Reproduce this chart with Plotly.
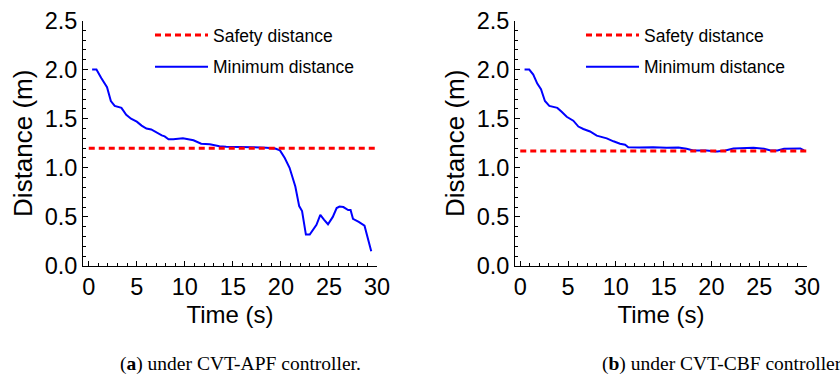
import plotly.graph_objects as go

# ---- data ----
t_apf = [0.35, 0.8, 1.3, 1.9, 2.3, 2.7, 3.4, 3.9, 4.4, 5.0, 5.5, 6.0, 6.5, 7.0, 7.6, 7.9, 8.3, 8.8,
         9.8, 10.9, 11.7, 12.6, 13.6, 14.3, 15.0, 17.1, 18.5, 19.4, 19.9, 20.4, 20.9, 21.2, 21.5,
         21.9, 22.2, 22.6, 23.0, 23.7, 24.1, 24.5, 24.9, 25.4, 25.8, 26.1, 26.5, 27.0, 27.25, 27.5,
         28.1, 28.7, 29.0, 29.4]
d_apf = [2.0, 2.0, 1.915, 1.82, 1.68, 1.63, 1.61, 1.54, 1.50, 1.47, 1.43, 1.40, 1.39, 1.36, 1.33,
         1.32, 1.29, 1.29, 1.30, 1.28, 1.245, 1.24, 1.22, 1.215, 1.215, 1.21, 1.205, 1.197, 1.177,
         1.10, 1.00, 0.895, 0.81, 0.61, 0.56, 0.32, 0.32, 0.42, 0.52, 0.47, 0.425, 0.50, 0.59,
         0.605, 0.60, 0.57, 0.57, 0.48, 0.45, 0.41, 0.30, 0.15]

t_cbf = [0.45, 0.94, 1.36, 1.78, 2.17, 2.58, 3.04, 3.88, 4.33, 4.86, 5.55, 6.08, 6.6, 7.3, 8.0,
         8.5, 9.05, 9.75, 10.44, 10.97, 11.3, 12.5, 13.9, 15.3, 16.55, 17.4, 18.1, 19.5, 20.6,
         21.45, 22.3, 24.4, 25.5, 26.2, 26.9, 27.6, 28.6, 29.3, 29.7]
d_cbf = [2.0, 2.0, 1.95, 1.857, 1.80, 1.68, 1.63, 1.61, 1.57, 1.52, 1.48, 1.42, 1.395, 1.37, 1.327,
         1.313, 1.30, 1.27, 1.245, 1.235, 1.21, 1.207, 1.21, 1.204, 1.207, 1.194, 1.177, 1.177,
         1.167, 1.177, 1.197, 1.204, 1.194, 1.177, 1.177, 1.194, 1.197, 1.197, 1.177]

safety_t = [0, 30]
safety_apf = 1.20
safety_cbf = 1.17

x_ticks = [0, 5, 10, 15, 20, 25, 30]
y_ticks = [0.0, 0.5, 1.0, 1.5, 2.0, 2.5]

captions = ["(<b>a</b>) under CVT-APF controller.", "(<b>b</b>) under CVT-CBF controller"]

# ---- figure ----
W, H = 840, 381
BLUE = "#0000ff"
RED = "#ff0000"
SANS = "Liberation Sans, Arial, sans-serif"
SERIF = "Liberation Serif, Times New Roman, serif"

fig = go.Figure()

panels = [
    dict(t=t_apf, d=d_apf, s=safety_apf, xref="x", yref="y", legend="legend"),
    dict(t=t_cbf, d=d_cbf, s=safety_cbf, xref="x2", yref="y2", legend="legend2"),
]

for p in panels:
    fig.add_trace(go.Scatter(
        x=p["t"], y=p["d"], mode="lines", name="Minimum distance",
        line=dict(color=BLUE, width=2), xaxis=p["xref"], yaxis=p["yref"],
        legend=p["legend"], legendgroup="b", legendrank=2))
    fig.add_trace(go.Scatter(
        x=safety_t, y=[p["s"]] * len(safety_t), mode="lines", name="Safety distance",
        line=dict(color=RED, width=3, dash="6px,4px"), xaxis=p["xref"], yaxis=p["yref"],
        legend=p["legend"], legendgroup="a", legendrank=1))

def px_x(v):
    return v / W

def px_y(v):
    return 1 - v / H

y_dom = [px_y(266), px_y(20.5)]

common_x = dict(
    tickmode="array", tickvals=x_ticks, ticks="inside", ticklen=5, tickwidth=1,
    tickcolor="black", showline=True, linecolor="black", linewidth=1,
    showgrid=False, zeroline=False, mirror=False,
    tickfont=dict(family=SANS, size=23.5, color="black"),
    minor=dict(ticks="inside", ticklen=3, dtick=1, tickcolor="black", showgrid=False),
    title=dict(text="Time (s)", font=dict(family=SANS, size=24, color="black"), standoff=6),
    automargin=False,
)
common_y = dict(
    tickmode="array", tickvals=y_ticks, tickformat=".1f", ticks="inside", ticklen=5,
    tickwidth=1, tickcolor="black", showline=True, linecolor="black", linewidth=1,
    showgrid=False, zeroline=False, range=[0, 2.5],
    tickfont=dict(family=SANS, size=23.5, color="black"),
    minor=dict(ticks="inside", ticklen=3, dtick=0.1, tickcolor="black", showgrid=False),
    title=dict(text="Distance (m)", font=dict(family=SANS, size=26, color="black"), standoff=4),
    automargin=False,
)

legend_common = dict(xanchor="left", yanchor="top", bgcolor="rgba(0,0,0,0)",
                     font=dict(family=SANS, size=17.5, color="black"),
                     traceorder="grouped", tracegroupgap=6, itemwidth=53)

fig.update_layout(
    width=W, height=H,
    margin=dict(l=0, r=0, t=0, b=0),
    paper_bgcolor="white", plot_bgcolor="white",
    showlegend=True,
    xaxis=dict(common_x, domain=[px_x(83), px_x(377)], range=[-0.6, 30], anchor="y"),
    yaxis=dict(common_y, domain=y_dom, anchor="x"),
    xaxis2=dict(common_x, domain=[px_x(515), px_x(807)], range=[-0.55, 30], anchor="y2"),
    yaxis2=dict(common_y, domain=y_dom, anchor="x2"),
    legend=dict(legend_common, x=px_x(150), y=px_y(17)),
    legend2=dict(legend_common, x=px_x(581), y=px_y(17)),
)

for cx, text in zip([240, 722], captions):
    fig.add_annotation(
        x=px_x(cx), y=px_y(364), xref="paper", yref="paper", text=text,
        showarrow=False, xanchor="center", yanchor="middle",
        font=dict(family=SERIF, size=19.5, color="black"))

fig.write_html("out.html")
